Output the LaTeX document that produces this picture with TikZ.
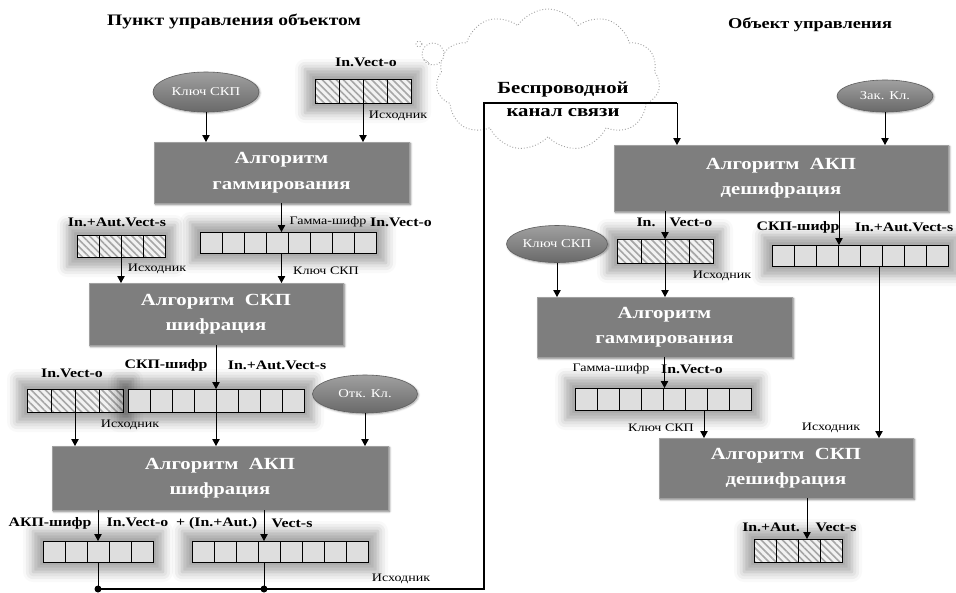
\documentclass[tikz,border=0pt]{standalone}
\usepackage{fontspec}
\setmainfont{Liberation Serif}[FakeStretch=1.22]
\usetikzlibrary{arrows.meta,shapes.geometric,shapes.symbols,patterns.meta,shadows.blur}

\definecolor{boxgray}{RGB}{126,126,126}
\definecolor{boxedge}{RGB}{160,160,160}
\definecolor{elltop}{RGB}{160,160,160}
\definecolor{ellbot}{RGB}{105,105,105}
\definecolor{elledge}{RGB}{95,95,95}
\definecolor{cellgray}{RGB}{222,222,222}

\newcommand\boxfont{\bfseries\fontsize{17}{25.5}\selectfont}
\newcommand\keyfont{\fontsize{12}{14}\selectfont}

% a row of #4 cells named #1-1 ... #1-#4; node #1 is the soft glow around the row
% #2,#3: top-left corner, #5,#6: cell width and height, #7: cell style
\newcommand\cellrow[7]{%
  \node[glow, minimum width={#4*#5 pt+20pt}, minimum height={#6 pt+20pt}] (#1) at ({#2+#4*#5/2},{#3+#6/2}) {};
  \foreach \k in {1,...,#4}{%
    \node[#7, anchor=north west, minimum width={#5 pt}, minimum height={#6 pt}] (#1-\k) at ({#2+(\k-1)*#5},#3) {};
  }%
}

\tikzset{
  every node/.style={inner sep=0pt, outer sep=0pt},
  arr/.style={draw, line width=0.8pt, -{Triangle[length=7pt,width=7.5pt]}},
  wire/.style={draw, line width=0.8pt},
  bus/.style={draw, line width=1.6pt},
  algo/.style={rectangle, fill=boxgray, draw=boxedge, line width=0.8pt, text=white,
    font=\boxfont, align=center,
    blur shadow={shadow xshift=1.5pt, shadow yshift=-1.5pt, shadow blur radius=2pt, shadow opacity=60}},
  keyell/.style={ellipse, draw=elledge, line width=0.6pt, top color=elltop, bottom color=ellbot,
    text=white, font=\keyfont,
    blur shadow={shadow xshift=1pt, shadow yshift=-1pt, shadow blur radius=2pt, shadow opacity=40}},
  glow/.style={rectangle, draw=none,
    blur shadow={shadow xshift=0pt, shadow yshift=0pt, shadow blur radius=10pt, shadow opacity=35, shadow scale=1}},
  cellplain/.style={rectangle, draw, line width=0.8pt, fill=cellgray},
  cellhatch/.style={rectangle, draw, line width=0.8pt, preaction={fill=gray!10},
    pattern={Lines[angle=-45,distance=5pt,line width=1.6pt]}, pattern color=gray!70},
  blab/.style={font=\bfseries\fontsize{13}{15}\selectfont},
  slab/.style={font=\fontsize{11.5}{13}\selectfont},
  dot/.style={circle, fill, minimum size=7pt},
  puff/.style={draw=gray!75, dotted, line width=0.9pt, fill=white},
}

\begin{document}
\begin{tikzpicture}[x=1pt,y=-1pt]
\useasboundingbox (0,0) rectangle (956,592);

% headings
\node[font=\bfseries\fontsize{16}{18}\selectfont] (ttlL) at (234,21) {Пункт управления объектом};
\node[font=\bfseries\fontsize{15}{17}\selectfont] (ttlR) at (810,25) {Объект управления};

% wireless channel cloud
\node[cloud, puff, cloud puffs=11, cloud puff arc=115, cloud ignores aspect,
      minimum width=224pt, minimum height=142pt] (air) at (548,80) {};
\node[circle, puff, minimum size=22pt] (bub1) at (433,54) {};
\node[circle, puff, minimum size=6pt] (bub2) at (419,44) {};

% helper coordinates for the taps and the channel line
\coordinate (xL2) at (264,0);
\coordinate (xR1) at (839,0);
\coordinate (xR2) at (704,0);
\coordinate (xR3) at (879,0);
\coordinate (xR4) at (807,0);
\coordinate (yBus) at (0,589);
\coordinate (yAir) at (0,103);
\coordinate (xBus) at (484,0);
\coordinate (xIn) at (677,0);

% ---------------- control point ----------------
\node[keyell, minimum width=106pt, minimum height=40pt] (kl1) at (206,92) {Ключ СКП};
\cellrow{vin1}{315}{79}{4}{24}{24}{cellhatch}
\node[algo, minimum width=255pt, minimum height=61pt] (g1) at (281.5,172.5) {Алгоритм\\гаммирования};
\cellrow{ga1}{200}{232}{8}{22}{21}{cellplain}
\cellrow{ai1}{77}{235}{4}{22}{22}{cellhatch}
\node[algo, minimum width=254pt, minimum height=62pt] (s1) at (216,314) {Алгоритм\ \ СКП\\шифрация};
\cellrow{vi2}{27}{389}{4}{24}{23}{cellhatch}
\cellrow{ga2}{128}{389}{8}{22}{23}{cellplain}
\node[keyell, minimum width=105pt, minimum height=38pt] (ok) at (365,394) {Отк. Кл.};
\node[algo, minimum width=336pt, minimum height=64pt] (a1) at (220,478) {Алгоритм\ \ АКП\\шифрация};
\cellrow{ak}{43}{541}{5}{22}{21}{cellplain}
\cellrow{ga3}{192}{541}{8}{22}{21}{cellplain}

% ---------------- controlled object ----------------
\node[keyell, minimum width=96pt, minimum height=32pt] (zk) at (885,96) {Зак. Кл.};
\node[algo, minimum width=334pt, minimum height=66pt] (r1) at (781,178) {Алгоритм\ \ АКП\\дешифрация};
\cellrow{vi3}{617}{239}{4}{24}{24}{cellhatch}
\node[keyell, minimum width=101pt, minimum height=37pt] (kl2) at (557,244) {Ключ СКП};
\cellrow{ga4}{772}{245}{8}{22}{21}{cellplain}
\node[algo, minimum width=255pt, minimum height=60pt] (g2) at (664.5,327) {Алгоритм\\гаммирования};
\cellrow{ga5}{575}{388}{8}{22}{22}{cellplain}
\node[algo, minimum width=254pt, minimum height=60pt] (s2) at (786,468) {Алгоритм\ \ СКП\\дешифрация};
\cellrow{ai2}{754}{539}{4}{22}{23}{cellhatch}

% joints on the outgoing line
\node[dot] (j1) at (ak-3.south |- yBus) {};
\node[dot] (j2) at (xL2 |- yBus) {};

% channel line
\draw[bus] (j1.center) -- (j2.center) -- (xBus |- yBus) -- (xBus |- yAir) -- (xIn |- yAir);
\draw[arr] (xIn |- yAir) -- (xIn |- r1.north);

% connectors, control point
\draw[arr] (kl1.south) -- (kl1.south |- g1.north);
\draw[arr] (vin1-2.south east) -- (vin1-2.south east |- g1.north);
\draw[arr] (g1.south) -- (g1.south |- ga1-1.north);
\draw[arr] (ai1-2.south east) -- (ai1-2.south east |- s1.north);
\draw[arr] (g1.south |- ga1-1.south) -- (g1.south |- s1.north);
\draw[arr] (s1.south) -- (s1.south |- ga2-1.north);
\draw[arr] (s1.south |- ga2-1.south) -- (s1.south |- a1.north);
\draw[arr] (vi2-2.south east) -- (vi2-2.south east |- a1.north);
\draw[arr] (ok.south) -- (ok.south |- a1.north);
\draw[arr] (ak-3.north |- a1.south) -- (ak-3.north);
\draw[arr] (xL2 |- a1.south) -- (xL2 |- ga3-1.north);
\draw[wire] (ak-3.south) -- (j1.center);
\draw[wire] (xL2 |- ga3-1.south) -- (j2.center);

% connectors, controlled object
\draw[arr] (zk.south) -- (zk.south |- r1.north);
\draw[arr] (vi3-2.north east |- r1.south) -- (vi3-2.north east);
\draw[arr] (xR1 |- r1.south) -- (xR1 |- ga4-1.north);
\draw[arr] (kl2.south) -- (kl2.south |- g2.north);
\draw[arr] (vi3-2.south east) -- (vi3-2.south east |- g2.north);
\draw[arr] (g2.south) -- (g2.south |- ga5-1.north);
\draw[arr] (xR2 |- ga5-1.south) -- (xR2 |- s2.north);
\draw[arr] (xR3 |- ga4-1.south) -- (xR3 |- s2.north);
\draw[arr] (xR4 |- s2.south) -- (xR4 |- ai2-1.north);

% cloud caption
\node[font=\bfseries\fontsize{17}{23}\selectfont, align=center] (airtxt) at (563,99) {Беспроводной\\канал связи};

% labels, control point
\node[blab] (lvin1) at (366,62) {In.Vect-o};
\node[slab] (lsrc1) at (398,116) {Исходник};
\node[slab] (lgam1) at (328,222) {Гамма-шифр};
\node[blab] (lvo1) at (401,222) {In.Vect-o};
\node[blab] (lai1) at (117,222) {In.+Aut.Vect-s};
\node[slab] (lsrc2) at (157,269) {Исходник};
\node[slab] (lkey1) at (326,271) {Ключ СКП};
\node[blab] (lskp1) at (166,365) {СКП-шифр};
\node[blab] (lai2) at (277,365) {In.+Aut.Vect-s};
\node[blab] (lvo2) at (72,373) {In.Vect-o};
\node[slab] (lsrc3) at (130,425) {Исходник};
\node[blab] (lakp) at (50,523) {АКП-шифр};
\node[blab] (lmix) at (182,523) {In.Vect-o\ \ + (In.+Aut.)};
\node[blab] (lvs1) at (292,523) {Vect-s};
\node[slab] (lsrc4) at (401,579) {Исходник};

% labels, controlled object
\node[blab] (lin3) at (646,222) {In.};
\node[blab] (lvo3) at (691,222) {Vect-o};
\node[slab] (lsrc5) at (722,276) {Исходник};
\node[blab] (lskp2) at (798,227) {СКП-шифр};
\node[blab] (lai3) at (904,227) {In.+Aut.Vect-s};
\node[slab] (lgam2) at (611,369) {Гамма-шифр};
\node[blab] (lvo4) at (692,369) {In.Vect-o};
\node[slab] (lkey2) at (661,428) {Ключ СКП};
\node[slab] (lsrc6) at (831,428) {Исходник};
\node[blab] (lai4) at (771,527) {In.+Aut.};
\node[blab] (lvs2) at (836,527) {Vect-s};
\end{tikzpicture}
\end{document}
